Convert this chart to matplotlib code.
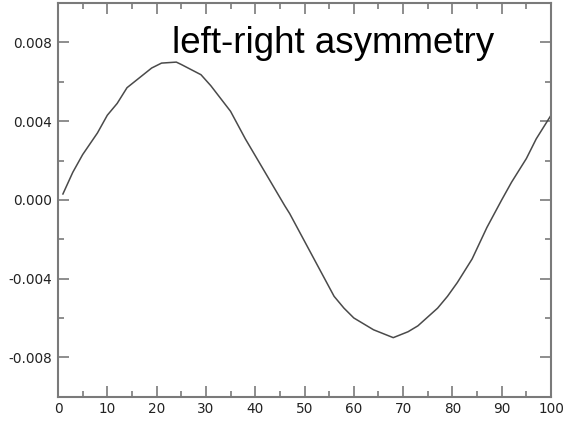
import matplotlib
matplotlib.use("Agg")
import matplotlib.pyplot as plt
from matplotlib.ticker import FixedLocator, FormatStrFormatter

# Asymmetry signal versus position
position = [1, 3, 5, 8, 10, 12, 14, 16, 19, 21, 24, 25, 29, 31, 35, 38, 42, 46,
            47, 50, 53, 56, 58, 60, 64, 68, 71, 73, 77, 79, 81, 83, 84, 87, 90,
            92, 95, 97, 100]
asymmetry = [0.0003, 0.0014, 0.0023, 0.0034, 0.0043, 0.0049, 0.0057, 0.0061,
             0.0067, 0.00695, 0.0070, 0.00688, 0.00636, 0.0058, 0.0045, 0.0031,
             0.0014, -0.0003, -0.0007, -0.0021, -0.0035, -0.0049, -0.0055,
             -0.0060, -0.0066, -0.0070, -0.0067, -0.0064, -0.0055, -0.0049,
             -0.0042, -0.0034, -0.0030, -0.0014, 0.0000, 0.0009, 0.0021,
             0.0031, 0.0043]

x_major = [0, 10, 20, 30, 40, 50, 60, 70, 80, 90, 100]
x_minor = [5, 15, 25, 35, 45, 55, 65, 75, 85, 95]
y_major = [-0.008, -0.004, 0.0, 0.004, 0.008]
y_minor = [-0.006, -0.002, 0.002, 0.006]

plt.rcParams["axes.unicode_minus"] = False

fig = plt.figure(figsize=(5.68, 4.26), dpi=100)
ax = fig.add_axes([0.1021, 0.0688, 0.868, 0.924])

ax.plot(position, asymmetry, color="#4a4a4a", lw=1.1)

ax.set_xlim(0, 100)
ax.set_ylim(-0.010, 0.010)

ax.xaxis.set_major_locator(FixedLocator(x_major))
ax.xaxis.set_minor_locator(FixedLocator(x_minor))
ax.yaxis.set_major_locator(FixedLocator(y_major))
ax.yaxis.set_minor_locator(FixedLocator(y_minor))
ax.yaxis.set_major_formatter(FormatStrFormatter("%.3f"))

frame = "#7a7a7a"
for s in ax.spines.values():
    s.set_color(frame)
    s.set_linewidth(1.5)

ax.tick_params(which="both", direction="in", top=True, right=True,
               color=frame, width=1.2, labelcolor="#222222", labelsize=9.8)
ax.tick_params(which="major", length=8, pad=4)
ax.tick_params(which="minor", length=4.5)

ax.text(23.1, 0.00748, "left-right asymmetry", fontsize=26.5,
        family="Liberation Sans", ha="left", va="baseline", color="black")

fig.savefig("out.png", dpi=100)
